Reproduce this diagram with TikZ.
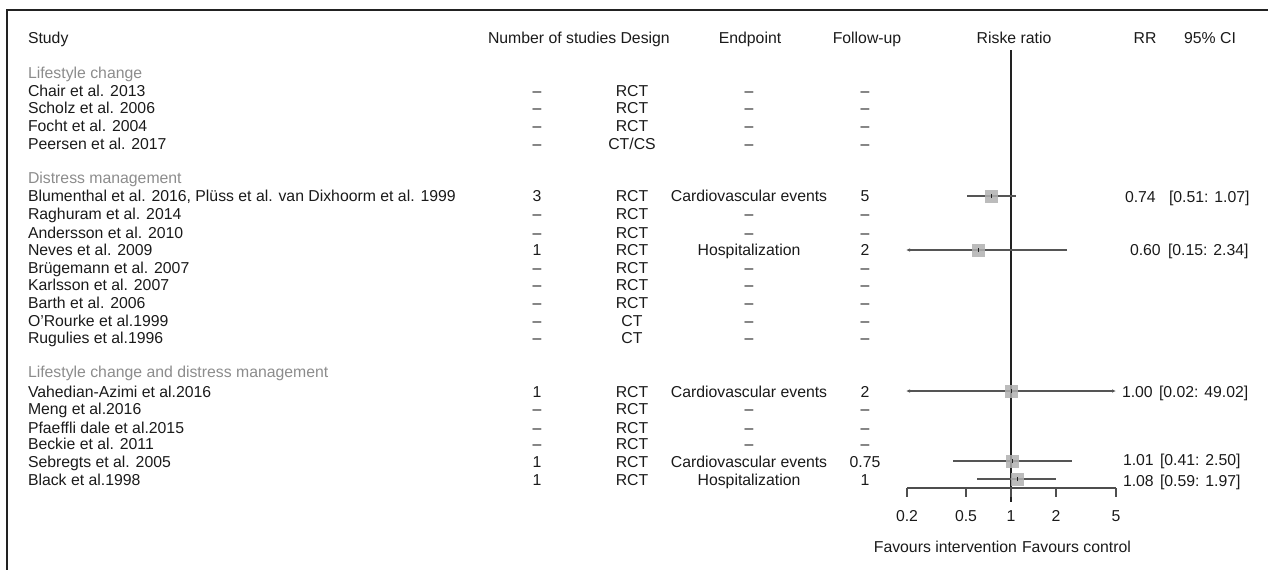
\documentclass[tikz,border=0pt]{standalone}
\usepackage{fontspec}
\setmainfont{Liberation Sans}
\usetikzlibrary{arrows.meta}
\definecolor{txt}{HTML}{1A1A1A}
\definecolor{grp}{HTML}{8C8C8C}
\definecolor{cil}{HTML}{555555}
\definecolor{sq}{HTML}{B0B0B0}
\definecolor{frm}{HTML}{222222}
\begin{document}
\begin{tikzpicture}[x=1pt,y=-1pt,
  tx/.style={inner sep=0pt, outer sep=0pt, text height=11.3pt, text depth=0pt,
             font=\fontsize{15.8}{18}\selectfont, text=txt},
  lbl/.style={tx, anchor=west},
  grplbl/.style={tx, anchor=west, text=grp},
  col/.style={tx, anchor=center},
  sqbox/.style={draw=none, fill=sq, fill opacity=0.85, minimum size=13pt, inner sep=0pt, outer sep=0pt},
  ci/.style={draw=cil, line width=1.1pt},
  ciarrow/.style={draw=cil, line width=1.1pt, -{Latex[length=4pt,width=3.5pt]}},
  refline/.style={draw=frm, line width=1.2pt},
  axisline/.style={draw=frm!80, line width=1.2pt},
  frame/.style={draw=frm, line width=2.6pt}
]
\useasboundingbox (0,0) rectangle (1268,570);

% frame (top and left)
\coordinate (fTR) at (1268,10);
\coordinate (fTL) at (7,10);
\coordinate (fBL) at (7,570);
\draw[frame] (fTR) -- (fTL) -- (fBL);

% header
\node[lbl] (hStudy) at (28,38) {Study};
\node[tx, anchor=west] (hNum) at (488,38) {Number of studies Design};
\node[col] (hEnd) at (750,38) {Endpoint};
\node[col] (hFol) at (867,38) {Follow-up};
\node[col] (hRisk) at (1014,38) {Riske ratio};
\node[col] (hRR) at (1145,38) {RR};
\node[col] (hCI) at (1210,38) {95\% CI};

% group headers
\node[grplbl] (g1) at (28,73) {Lifestyle change};
\node[grplbl] (g2) at (28,178) {Distress management};
\node[grplbl] (g3) at (28,372) {Lifestyle change and distress management};

% study rows: y / name / number / design / endpoint / follow-up
\foreach \y/\nm/\nn/\ds/\ep/\fu [count=\i] in {
  91/{Chair et al. 2013}/–/RCT/–/–,
  108/{Scholz et al. 2006}/–/RCT/–/–,
  126/{Focht et al. 2004}/–/RCT/–/–,
  144/{Peersen et al. 2017}/–/CT\slash CS/–/–,
  196/{Blumenthal et al. 2016, Plüss et al. van Dixhoorm et al. 1999}/3/RCT/{Cardiovascular events}/5,
  214/{Raghuram et al. 2014}/–/RCT/–/–,
  233/{Andersson et al. 2010}/–/RCT/–/–,
  250/{Neves et al. 2009}/1/RCT/Hospitalization/2,
  268/{Brügemann et al. 2007}/–/RCT/–/–,
  285/{Karlsson et al. 2007}/–/RCT/–/–,
  303/{Barth et al. 2006}/–/RCT/–/–,
  321/{O'Rourke et al.1999}/–/CT/–/–,
  338/{Rugulies et al.1996}/–/CT/–/–,
  392/{Vahedian-Azimi et al.2016}/1/RCT/{Cardiovascular events}/2,
  409/{Meng et al.2016}/–/RCT/–/–,
  428/{Pfaeffli dale et al.2015}/–/RCT/–/–,
  444/{Beckie et al. 2011}/–/RCT/–/–,
  462/{Sebregts et al. 2005}/1/RCT/{Cardiovascular events}/0.75,
  480/{Black et al.1998}/1/RCT/Hospitalization/1}
{
  \node[lbl] (name\i) at (28,\y) {\nm};
  \node[col] (num\i) at (537,\y) {\nn};
  \node[col] (des\i) at (632,\y) {\ds};
  \node[col] (end\i) at (749,\y) {\ep};
  \node[col] (fol\i) at (865,\y) {\fu};
}

% reference line (RR = 1)
\coordinate (vtop) at (1011,50);
\coordinate (vbot) at (1011,502);
\draw[refline] (vtop) -- (vbot);

% axis
\coordinate (axL) at (907,488);
\coordinate (axR) at (1116,488);
\draw[axisline] (axL) -- (axR);
\foreach \x/\t [count=\k] in {907/0.2, 966/0.5, 1011/1, 1056/2, 1116/5} {
  \coordinate (tk\k) at (\x,488);
  \coordinate (tb\k) at (\x,497);
  \draw[axisline] (tk\k) -- (tb\k);
  \node[col] (tl\k) at (\x,516) {\t};
}
\node[tx, anchor=east] (favI) at (1017,547) {Favours intervention};
\node[tx, anchor=west] (favC) at (1022,547) {Favours control};

% estimates
% Blumenthal
\coordinate (c1l) at (967,196); \coordinate (c1r) at (1016,196);
\draw[ci] (c1l) -- (c1r);
\node[sqbox] (s1) at (991,196) {};
% Neves
\coordinate (c2l) at (906,250); \coordinate (c2r) at (1067,250);
\draw[ciarrow] (c2r) -- (c2l);
\node[sqbox] (s2) at (978,250) {};
% Vahedian
\coordinate (c3l) at (906,391); \coordinate (c3r) at (1116,391);
\coordinate (c3m) at (1011,391);
\draw[ciarrow] (c3m) -- (c3l);
\draw[ciarrow] (c3m) -- (c3r);
\node[sqbox] (s3) at (1011,391) {};
% Sebregts
\coordinate (c4l) at (953,461); \coordinate (c4r) at (1072,461);
\draw[ci] (c4l) -- (c4r);
\node[sqbox] (s4) at (1012,461) {};
% Black
\coordinate (c5l) at (977,479); \coordinate (c5r) at (1056,479);
\draw[ci] (c5l) -- (c5r);
\node[sqbox] (s5) at (1017,479) {};

\foreach \k in {1,...,5} {
  \draw[draw=frm, line width=1pt] ([yshift=-2pt]s\k.center) -- ([yshift=2pt]s\k.center);
}

% RR and CI text
\node[tx, anchor=west] (rr1) at (1125,197) {0.74};
\node[tx, anchor=west] (cit1) at (1169,197) {[0.51: 1.07]};
\node[tx, anchor=west] (rr2) at (1130,250) {0.60};
\node[tx, anchor=west] (cit2) at (1168,250) {[0.15: 2.34]};
\node[tx, anchor=west] (rr3) at (1122,392) {1.00};
\node[tx, anchor=west] (cit3) at (1159,392) {[0.02: 49.02]};
\node[tx, anchor=west] (rr4) at (1123,460) {1.01};
\node[tx, anchor=west] (cit4) at (1160,460) {[0.41: 2.50]};
\node[tx, anchor=west] (rr5) at (1123,481) {1.08};
\node[tx, anchor=west] (cit5) at (1160,481) {[0.59: 1.97]};
\end{tikzpicture}
\end{document}
